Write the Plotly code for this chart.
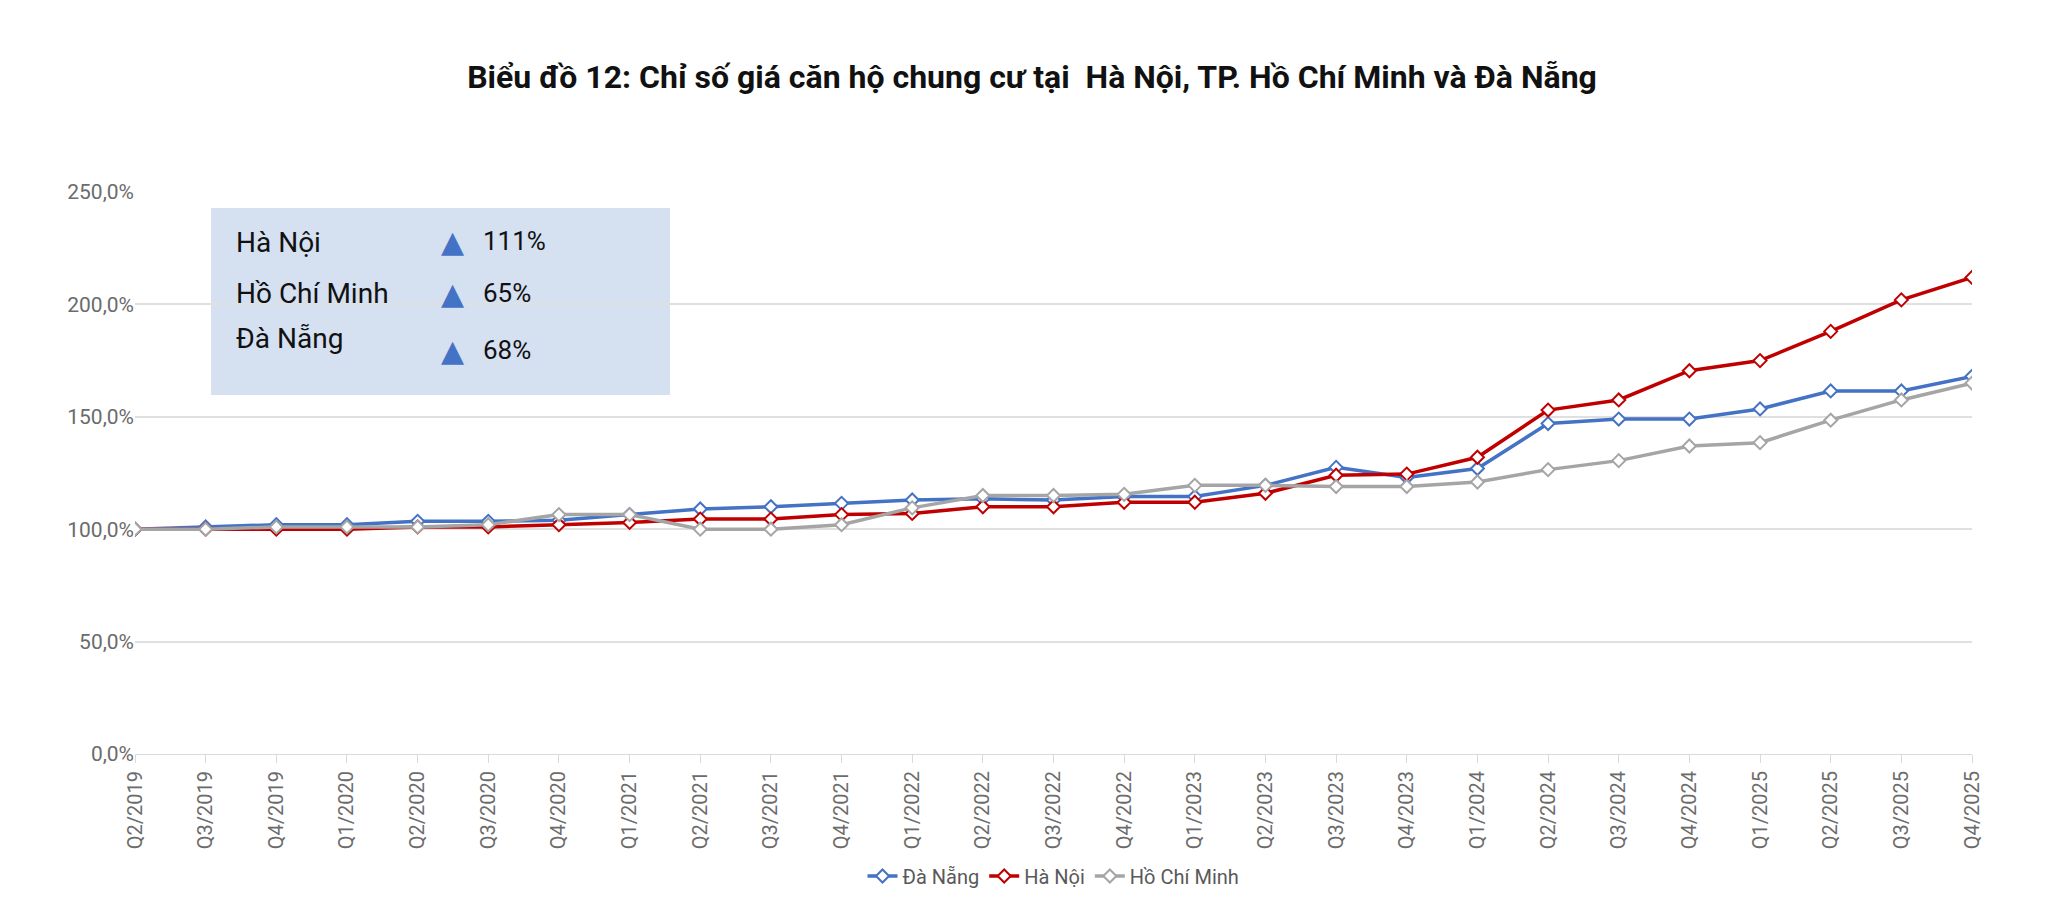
import plotly.graph_objects as go

quarters = ["Q2/2019","Q3/2019","Q4/2019","Q1/2020","Q2/2020","Q3/2020","Q4/2020","Q1/2021","Q2/2021",
            "Q3/2021","Q4/2021","Q1/2022","Q2/2022","Q3/2022","Q4/2022","Q1/2023","Q2/2023","Q3/2023",
            "Q4/2023","Q1/2024","Q2/2024","Q3/2024","Q4/2024","Q1/2025","Q2/2025","Q3/2025","Q4/2025"]
da_nang = [100,101,102,102,103.5,103.5,104,106.5,109,110,111.5,113,113.5,113,114.5,114.5,119.5,127.5,
           123,127,147,149,149,153.5,161.5,161.5,168]
ha_noi = [100,100,100,100,101,101,102,103,104.5,104.5,106.5,107,110,110,112,112,116,124,124.5,132,
          153,157.5,170.5,175,188,202,212]
hcm = [100,100,101,101,101,102,106.5,106.5,100,100,102,109.5,115,115,115.5,119.5,119.5,119,119,121,
       126.5,130.5,137,138.5,148.5,157.5,165]
box_names = ["Hà Nội", "Hồ Chí Minh", "Đà Nẵng"]
box_pcts = ["111%", "65%", "68%"]

L, R, T, B = 127, 1964, 184, 746
W, H = R - L, B - T
def px(x): return (x - L) / W
def py(y): return (B - y) / H

fig = go.Figure()
for name, vals, col in [("Đà Nẵng", da_nang, "#4472C4"), ("Hà Nội", ha_noi, "#C00000"), ("Hồ Chí Minh", hcm, "#A5A5A5")]:
    fig.add_trace(go.Scatter(x=quarters, y=[v/100 for v in vals], name=name, mode="lines+markers",
                             line=dict(color=col, width=3.5),
                             marker=dict(symbol="diamond", size=10, color="white", line=dict(color=col, width=2))))

fig.add_shape(type="rect", xref="paper", yref="paper", x0=px(203), x1=px(662), y0=py(387), y1=py(200),
              fillcolor="#D5E0F1", line=dict(width=0), layer="below")
name_y = [234, 285, 330]
tri_y = [233, 285, 342]
for n, p, ny, ty in zip(box_names, box_pcts, name_y, tri_y):
    fig.add_annotation(xref="paper", yref="paper", x=px(226), y=py(ny), text=n, showarrow=False,
                       xanchor="left", yanchor="middle", font=dict(size=28, color="#111", family="Roboto"))
    fig.add_annotation(xref="paper", yref="paper", x=px(444), y=py(ty), text="▲", showarrow=False,
                       xanchor="center", yanchor="middle", font=dict(size=30, color="#4472C4", family="DejaVu Sans"))
    fig.add_annotation(xref="paper", yref="paper", x=px(473), y=py(ty), text=p, showarrow=False,
                       xanchor="left", yanchor="middle", font=dict(size=26, color="#111", family="Roboto"))

fig.update_layout(
    width=2048, height=905, plot_bgcolor="white", paper_bgcolor="white",
    margin=dict(l=L, r=2048 - R, t=T, b=905 - B),
    title=dict(text="<b>Biểu đồ 12: Chỉ số giá căn hộ chung cư tại  Hà Nội, TP. Hồ Chí Minh và Đà Nẵng</b>",
               x=0.5, xanchor="center", y=0.924, yanchor="middle", font=dict(size=32, color="#111", family="Roboto")),
    font=dict(family="Roboto", color="#6b6b6b", size=21),
    legend=dict(orientation="h", x=0.5, xanchor="center", y=py(868), yanchor="middle", font=dict(size=20, color="#595959")),
    xaxis=dict(type="category", range=[0, 26], tickangle=-90, showgrid=False, showline=True,
               linecolor="#D9D9D9", ticks="outside", ticklen=8, tickcolor="#D9D9D9", tickfont=dict(size=20)),
    yaxis=dict(range=[0, 2.5], dtick=0.5, tickformat=".1%", gridcolor="#E0E0E0",
               gridwidth=1.5, zeroline=False, tickfont=dict(size=21)),
    separators=",.",
)
fig.write_html("out.html")
